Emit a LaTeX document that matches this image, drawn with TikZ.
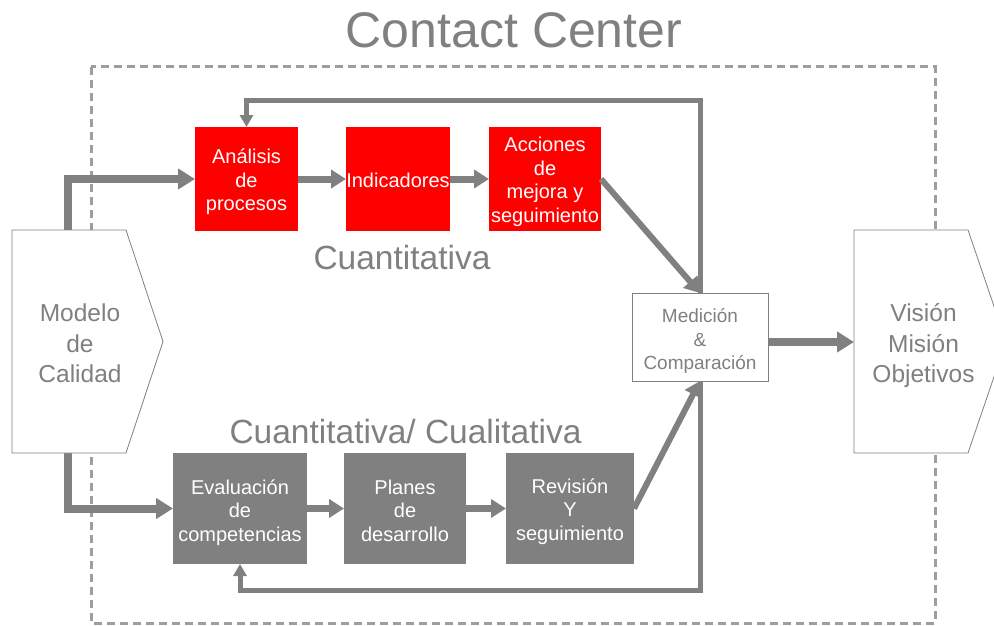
\documentclass[tikz,border=0pt]{standalone}
\usepackage{fontspec}
\setmainfont{Liberation Sans}
\usetikzlibrary{arrows.meta,calc}
\definecolor{linegray}{RGB}{128,128,128}
\definecolor{framegray}{RGB}{158,158,158}
\definecolor{textgray}{RGB}{128,128,128}
\definecolor{boxred}{RGB}{255,0,0}
\tikzset{
  redbox/.style={fill=boxred, inner sep=0pt, outer sep=0pt, minimum height=104pt},
  graybox/.style={fill=linegray, inner sep=0pt, outer sep=0pt, minimum height=111pt},
  boxtext/.style={text=white, align=center, inner sep=0pt, font=\fontsize{20}{23.5}\selectfont},
  medbox/.style={draw=linegray, line width=0.8pt, fill=white, inner sep=0pt, outer sep=0pt},
  medtext/.style={text=textgray, align=center, inner sep=0pt, font=\fontsize{19}{23.5}\selectfont},
  flow/.style={draw=linegray, line width=7pt, -{Triangle[length=15pt,width=18pt]}},
  bigflow/.style={draw=linegray, line width=8pt, -{Triangle[length=17pt,width=20pt]}},
  backflow/.style={draw=linegray, line width=5pt, -{Triangle[length=12pt,width=13pt]}},
  ccframe/.style={draw=framegray, line width=3pt, dash pattern=on 8pt off 5pt},
  penta/.style={draw=linegray, line width=0.8pt, fill=white},
  penttext/.style={text=textgray, align=center, font=\fontsize{24.5}{30.5}\selectfont},
  sectiontext/.style={text=textgray, anchor=base, inner sep=0pt, font=\fontsize{33.5}{40}\selectfont},
}
\begin{document}
\begin{tikzpicture}[x=1pt,y=-1pt]
\useasboundingbox (0,0) rectangle (994,626);

% title and dashed boundary of the contact center
\node[text=textgray, anchor=base, inner sep=0pt, font=\fontsize{50}{60}\selectfont] (title) at (514,48) {Contact Center};
\draw[ccframe] (91,67) rectangle (935,623);

% process boxes
\node[redbox, minimum width=103pt] (ana) at (246.5,179) {};
\node[redbox, minimum width=104pt] (ind) at (398,179) {};
\node[redbox, minimum width=112pt] (acc) at (545,179) {};

\node[graybox, minimum width=134pt] (eva) at (240,508.5) {};
\node[graybox, minimum width=122pt] (pla) at (405,508.5) {};
\node[graybox, minimum width=128pt] (rev) at (570,508.5) {};

\node[medbox, minimum width=136pt, minimum height=88pt] (med) at (700,337) {};

% box captions
\node[boxtext] (anatext) at ($(ana)+(0,3)$) {Análisis\\de\\procesos};
\node[boxtext] (indtext) at ($(ind)+(0,1)$) {Indicadores};
\node[boxtext] (acctext) at ($(acc)+(0,3)$) {Acciones\\de\\mejora y\\seguimiento};
\node[boxtext] (evatext) at ($(eva)+(0,4)$) {Evaluación\\de\\competencias};
\node[boxtext] (platext) at ($(pla)+(0,2)$) {Planes\\de\\desarrollo};
\node[boxtext] (revtext) at ($(rev)+(0,3)$) {Revisión\\Y\\seguimiento};
\node[medtext] (medtext) at ($(med)+(0,4)$) {Medición\\\&\\Comparación};

% section captions
\node[sectiontext] (cuant) at (402,269) {Cuantitativa};
\node[sectiontext] (cual) at (405.5,443) {Cuantitativa/ Cualitativa};

% anchor points on the two side shapes
\coordinate (mtop) at (68,230);
\coordinate (mbot) at (68,453);
\coordinate (vin) at (854,342);
\coordinate (topy) at (0,101);
\coordinate (boty) at (0,590);

% connectors
\draw[bigflow] (mtop) |- (ana.west);
\draw[bigflow] (mbot) |- (eva.west);
\draw[flow] (ana.east) -- (ind.west);
\draw[flow] (ind.east) -- (acc.west);
\draw[flow] (eva.east) -- (pla.west);
\draw[flow] (pla.east) -- (rev.west);
\draw[flow, line width=6pt] (acc.east) -- (med.north);
\draw[flow, line width=6pt] (rev.east) -- (med.south);
\draw[backflow] (med.north) -- (med.north |- topy) -| (ana.north);
\draw[backflow] (med.south) -- (med.south |- boty) -| (eva.south);
\draw[bigflow] (med.east |- vin) -- (vin);

% side shapes
\draw[penta] (12,230) -- (126,230) -- (163,341.5) -- (126,453) -- (12,453) -- cycle;
\node[penttext] (modelo) at (80,343.5) {Modelo\\de\\Calidad};
\draw[penta] (854,230) -- (968,230) -- (1006,341.5) -- (968,453) -- (854,453) -- cycle;
\node[penttext] (vision) at (923.5,346) {Visión\\Misión\\Objetivos};
\end{tikzpicture}
\end{document}
